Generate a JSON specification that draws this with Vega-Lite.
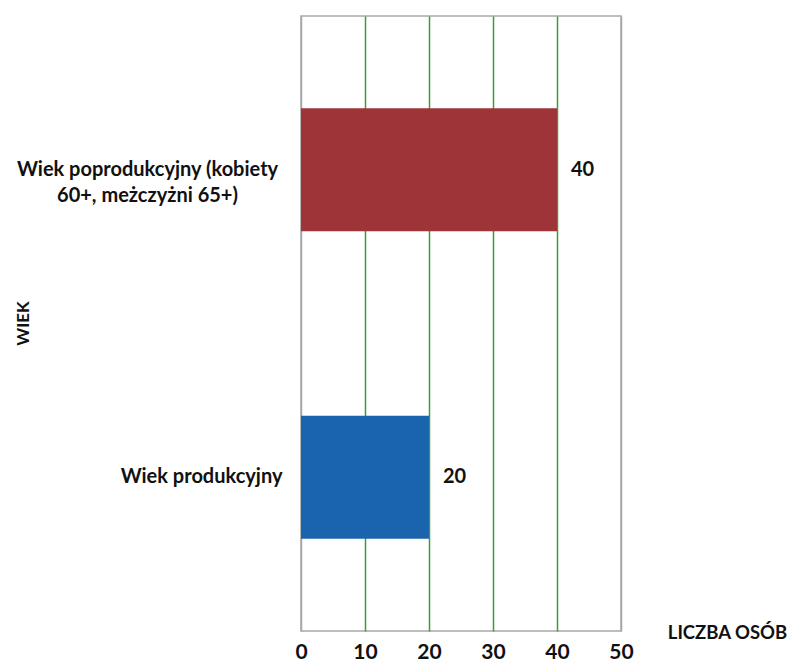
{
  "$schema": "https://vega.github.io/schema/vega-lite/v6.json",
  "autosize": {"type": "none"},
  "padding": {"left": 301, "top": 16, "right": 168, "bottom": 37},
  "width": 320,
  "height": 615,
  "background": "white",
  "config": {
    "font": "Lato",
    "view": {"stroke": "#a8a8a8", "strokeWidth": 1.5}
  },
  "data": {
    "values": [
      {"wiek": "Wiek poprodukcyjny (kobiety|60+, meżczyżni 65+)", "liczba": 40, "kolor": "#9e3438"},
      {"wiek": "Wiek produkcyjny", "liczba": 20, "kolor": "#1a63ad"}
    ]
  },
  "encoding": {
    "y": {
      "field": "wiek",
      "type": "nominal",
      "sort": null,
      "scale": {"paddingInner": 0.6, "paddingOuter": 0.3},
      "axis": {
        "title": "WIEK",
        "titleFont": "Lato",
        "titleFontSize": 17,
        "titleFontWeight": "bold",
        "titleColor": "#111",
        "titleX": -278,
        "titleY": 307,
        "titleAngle": -90,
        "titleAlign": "center",
        "titleBaseline": "middle",
        "domain": false,
        "ticks": false,
        "labelExpr": "split(datum.label, '|')",
        "labelFont": "Lato",
        "labelFontSize": 20,
        "labelFontWeight": "bold",
        "labelColor": "#111",
        "labelLineHeight": 26,
        "labelLimit": 400,
        "labelAlign": {"condition": {"test": "indexof(datum.value, '|') >= 0", "value": "center"}, "value": "right"},
        "labelPadding": {"condition": {"test": "indexof(datum.value, '|') >= 0", "value": 154}, "value": 19}
      }
    },
    "x": {
      "field": "liczba",
      "type": "quantitative",
      "scale": {"domain": [0, 50], "nice": false},
      "axis": {
        "values": [0, 10, 20, 30, 40, 50],
        "title": "LICZBA OSÓB",
        "titleFont": "Lato",
        "titleFontSize": 18.5,
        "titleFontWeight": "bold",
        "titleColor": "#111",
        "titleX": 426,
        "titleY": 1,
        "titleAlign": "center",
        "titleBaseline": "middle",
        "domain": false,
        "ticks": false,
        "grid": true,
        "gridColor": {"condition": {"test": "datum.value === 0 || datum.value === 50", "value": "#a8a8a8"}, "value": "#3f9a3f"},
        "gridWidth": 1.5,
        "gridOpacity": 1,
        "labelFont": "Lato",
        "labelFontSize": 21,
        "labelFontWeight": "bold",
        "labelColor": "#111",
        "labelPadding": 10,
        "labelFlush": false
      }
    }
  },
  "layer": [
    {
      "mark": {"type": "bar"},
      "encoding": {
        "color": {"field": "kolor", "type": "nominal", "scale": null, "legend": null}
      }
    },
    {
      "mark": {"type": "text", "align": "left", "baseline": "middle", "dx": 14, "font": "Lato", "fontSize": 20, "fontWeight": "bold", "color": "#111"},
      "encoding": {
        "text": {"field": "liczba", "type": "quantitative"}
      }
    }
  ]
}
